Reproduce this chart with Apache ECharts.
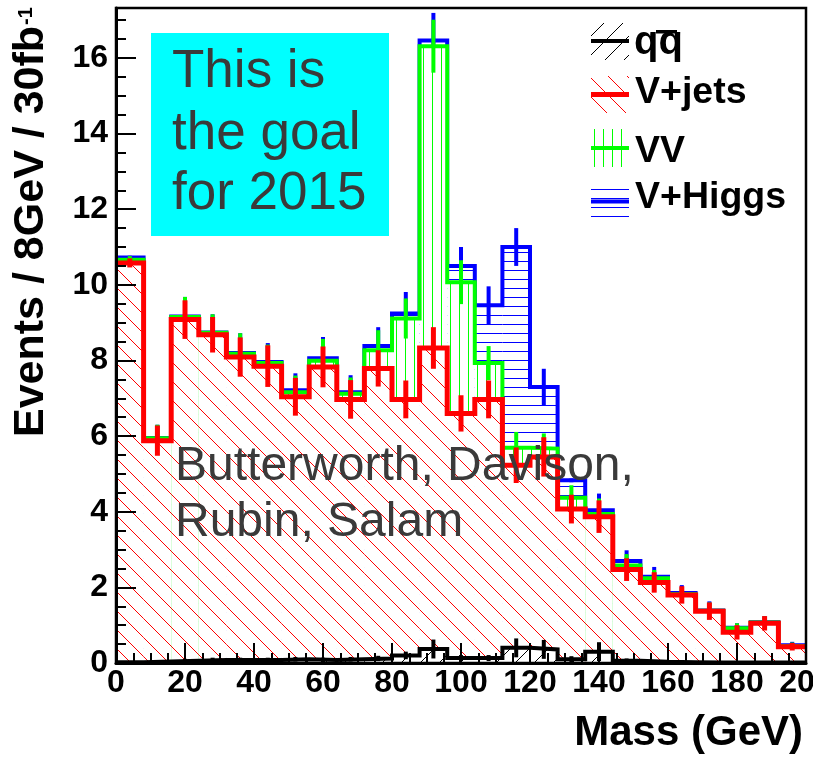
<!DOCTYPE html>
<html><head><meta charset="utf-8">
<script src="https://cdn.jsdelivr.net/npm/echarts@6/dist/echarts.min.js"></script>
<style>html,body{margin:0;padding:0;background:#fff}#c{width:813px;height:757px}</style>
</head><body><div id="c"></div>
<script>
// ---- data ----
const binStarts = [0,8,16,24,32,40,48,56,64,72,80,88,96,104,112,120,128,136,144,152,160,168,176,184,192];
const binWidth = 8;
const qqbar  = [0.02,0.04,0.06,0.08,0.08,0.08,0.10,0.08,0.10,0.12,0.20,0.37,0.13,0.13,0.40,0.36,0.10,0.30,0.06,0.03,0.02,0.01,0.01,0.01,0.01];
const vjets  = [10.56,5.84,9.02,8.60,8.01,7.77,6.94,7.75,6.87,7.67,6.77,7.96,6.47,6.84,4.83,5.09,3.97,3.57,2.41,2.10,1.78,1.36,0.80,1.04,0.42];
const vv     = [0.08,0.06,0.07,0.05,0.09,0.08,0.12,0.16,0.15,0.48,2.14,7.98,3.47,0.96,0.46,0.22,0.30,0.07,0.11,0.11,0.02,0.01,0.11,0.02,0.01];
const vhiggs = [0.06,0.01,0.01,0.01,0.02,0.03,0.05,0.07,0.04,0.11,0.13,0.15,0.43,1.53,5.31,1.63,0.46,0.10,0.12,0.04,0.03,0.01,0.01,0.01,0.03];
const errQQ  = [0.03,0.04,0.05,0.06,0.06,0.06,0.06,0.06,0.06,0.07,0.10,0.25,0.08,0.08,0.25,0.25,0.08,0.25,0.06,0.04,0.03,0.02,0.02,0.02,0.02];
const errVJ  = [0.12,0.40,0.51,0.47,0.52,0.55,0.50,0.54,0.51,0.48,0.50,0.55,0.48,0.50,0.47,0.52,0.38,0.43,0.30,0.27,0.23,0.23,0.19,0.19,0.10];
const errVV  = [0.10,0.36,0.53,0.49,0.54,0.49,0.44,0.58,0.43,0.53,0.53,0.70,0.58,0.45,0.42,0.40,0.33,0.41,0.30,0.22,0.17,0.22,0.13,0.16,0.10];
const errVH  = [0.05,0.35,0.52,0.48,0.52,0.50,0.45,0.56,0.45,0.50,0.57,0.73,0.50,0.50,0.50,0.48,0.05,0.44,0.28,0.26,0.21,0.24,0.12,0.16,0.09];
const legendNames = ['qq', 'V+jets', 'VV', 'V+Higgs'];
const xLabelStep = 20;
const yLabelStep = 2;

// ---- stacking ----
const layers = [qqbar, vjets, vv, vhiggs];
const cum = [];
let run = binStarts.map(() => 0);
layers.forEach(l => { run = run.map((v, i) => v + l[i]); cum.push(run); });

const FONT = '"Liberation Sans", Helvetica, Arial, sans-serif';

function makePattern(kind, color, size) {
  const c = document.createElement('canvas');
  c.width = size; c.height = size;
  const g = c.getContext('2d');
  g.fillStyle = '#fff'; g.fillRect(0, 0, size, size);
  g.strokeStyle = color; g.lineWidth = 1;
  g.beginPath();
  if (kind === 'back') { for (let k = -1; k <= 1; k++) { g.moveTo(k * size, 0); g.lineTo(k * size + size, size); } }
  if (kind === 'fwd')  { for (let k = -1; k <= 1; k++) { g.moveTo(k * size, size); g.lineTo(k * size + size, 0); } }
  if (kind === 'vert') { g.moveTo(0.5, 0); g.lineTo(0.5, size); }
  if (kind === 'horz') { g.moveTo(0, 0.5); g.lineTo(size, 0.5); }
  g.stroke();
  return { image: c, repeat: 'repeat' };
}
const patQQ = makePattern('fwd', '#000000', 19);
const patVJ = makePattern('back', '#ff0000', 19);
const patVV = makePattern('vert', '#00ff00', 9);
const patVH = makePattern('horz', '#0000ff', 9);

function fillSeries(tops, pattern, z) {
  return {
    type: 'custom', z: z, silent: true, animation: false,
    data: binStarts.map((x0, i) => [x0, x0 + binWidth, tops[i]]),
    encode: { x: [0, 1], y: 2 },
    renderItem: (p, api) => {
      const a = api.coord([api.value(0), 0]);
      const b = api.coord([api.value(1), api.value(2)]);
      return { type: 'rect', shape: { x: a[0], y: b[1], width: b[0] - a[0], height: a[1] - b[1] }, style: { fill: pattern } };
    }
  };
}
function outlineSeries(tops, color, width, z) {
  const pts = binStarts.map((x0, i) => [x0, tops[i]]);
  pts.push([binStarts[binStarts.length - 1] + binWidth, tops[tops.length - 1]]);
  return { type: 'line', step: 'end', data: pts, symbol: 'none', z: z, silent: true, animation: false,
    lineStyle: { color: color, width: width, join: 'miter', cap: 'butt' } };
}
function errorSeries(tops, errs, color, width, z) {
  return {
    type: 'custom', z: z, silent: true, animation: false,
    data: binStarts.map((x0, i) => [x0 + binWidth / 2, tops[i] - errs[i], tops[i] + errs[i]]),
    encode: { x: 0, y: [1, 2] },
    renderItem: (p, api) => {
      const a = api.coord([api.value(0), api.value(1)]);
      const b = api.coord([api.value(0), api.value(2)]);
      return { type: 'line', shape: { x1: a[0], y1: a[1], x2: b[0], y2: b[1] }, style: { stroke: color, lineWidth: width } };
    }
  };
}

const series = [];
// back to front: V+Higgs, VV, V+jets, qq
const specs = [
  [cum[3], patVH, '#0000ff', errVH, 4],
  [cum[2], patVV, '#00ff00', errVV, 4],
  [cum[1], patVJ, '#ff0000', errVJ, 5],
  [cum[0], patQQ, '#000000', errQQ, 4]
];
specs.forEach((s, k) => {
  const z = 2 + k * 3;
  series.push(fillSeries(s[0], s[1], z));
  series.push(outlineSeries(s[0], s[2], s[4], z + 1));
  series.push(errorSeries(s[0], s[3], s[2], s[4], z + 2));
});

function txt(text, x, y, size, weight, color, align, rot) {
  return { type: 'text', x: x, y: y, rotation: rot || 0, z: 200, silent: true,
    style: { text: text, fill: color, font: weight + ' ' + size + 'px ' + FONT,
      align: align, verticalAlign: 'middle', textAlign: align, textVerticalAlign: 'middle' } };
}
function mid(baseline, size) { return baseline - 0.3465 * size; }

const graphics = [
  // frame
  { type: 'rect', z: 150, silent: true, shape: { x: 116, y: 8, width: 690, height: 655 }, style: { fill: null, stroke: '#000', lineWidth: 2.5 } },
  // cyan box
  { type: 'rect', z: 190, silent: true, shape: { x: 151, y: 33, width: 238, height: 203 }, style: { fill: '#00ffff' } },
  txt('This is', 172, mid(90.7, 53), 53, 'normal', '#3a3a3a', 'left'),
  txt('the goal', 172, mid(152.7, 53), 53, 'normal', '#3a3a3a', 'left'),
  txt('for 2015', 172, mid(212.7, 53), 53, 'normal', '#3a3a3a', 'left'),
  txt('Butterworth, Davison,', 175, mid(483.3, 48), 48, 'normal', '#3a3a3a', 'left'),
  txt('Rubin, Salam', 175, mid(539.3, 48), 48, 'normal', '#3a3a3a', 'left'),
  // axis titles
  txt('Events / 8GeV / 30fb', 31, 437, 43, 'bold', '#000', 'left', Math.PI / 2),
  txt('-1', 26, 25, 20, 'bold', '#000', 'left', Math.PI / 2),
  txt('Mass (GeV)', 803, mid(748, 42), 42, 'bold', '#000', 'right'),
  // legend symbols
  { type: 'rect', z: 180, silent: true, shape: { x: 591, y: 23, width: 38, height: 37 }, style: { fill: patQQ } },
  { type: 'line', z: 181, silent: true, shape: { x1: 591, y1: 41, x2: 629, y2: 41 }, style: { stroke: '#000', lineWidth: 4 } },
  { type: 'rect', z: 180, silent: true, shape: { x: 591, y: 76, width: 38, height: 37 }, style: { fill: patVJ } },
  { type: 'line', z: 181, silent: true, shape: { x1: 591, y1: 94.5, x2: 629, y2: 94.5 }, style: { stroke: '#ff0000', lineWidth: 5 } },
  { type: 'rect', z: 180, silent: true, shape: { x: 591, y: 129, width: 38, height: 38 }, style: { fill: patVV } },
  { type: 'line', z: 181, silent: true, shape: { x1: 591, y1: 148, x2: 629, y2: 148 }, style: { stroke: '#00ff00', lineWidth: 4 } },
  { type: 'rect', z: 180, silent: true, shape: { x: 591, y: 182, width: 38, height: 37 }, style: { fill: patVH } },
  { type: 'line', z: 181, silent: true, shape: { x1: 591, y1: 201.5, x2: 629, y2: 201.5 }, style: { stroke: '#0000ff', lineWidth: 4 } },
  // legend texts
  txt(legendNames[0], 634, mid(57.3, 40), 40, 'bold', '#000', 'left'),
  { type: 'rect', z: 200, silent: true, shape: { x: 656, y: 30, width: 21, height: 3.5 }, style: { fill: '#000' } },
  txt(legendNames[1], 635, mid(106, 37.5), 37.5, 'bold', '#000', 'left'),
  txt(legendNames[2], 635, mid(165, 37.5), 37.5, 'bold', '#000', 'left'),
  txt(legendNames[3], 635, mid(210.7, 37.5), 37.5, 'bold', '#000', 'left')
];

const chart = echarts.init(document.getElementById('c'), null, { renderer: 'canvas', width: 813, height: 757 });
chart.setOption({
  animation: false,
  backgroundColor: '#ffffff',
  grid: { left: 116, top: 8, width: 690, height: 655, containLabel: false, outerBoundsMode: 'none' },
  xAxis: {
    type: 'value', min: 0, max: 200, interval: xLabelStep, z: 50,
    axisLine: { show: true, onZero: false, lineStyle: { color: '#000', width: 3 } },
    axisTick: { show: true, inside: true, length: 20, lineStyle: { color: '#000', width: 2 } },
    minorTick: { show: true, splitNumber: 4, length: 10, lineStyle: { color: '#000', width: 2 } },
    splitLine: { show: false },
    axisLabel: { margin: 4, fontSize: 32, fontWeight: 'bold', fontFamily: FONT, color: '#000' }
  },
  yAxis: {
    type: 'value', min: 0, max: 17.32, interval: yLabelStep, z: 50,
    axisLine: { show: true, onZero: false, lineStyle: { color: '#000', width: 3 } },
    axisTick: { show: true, inside: true, length: 20, lineStyle: { color: '#000', width: 2 } },
    minorTick: { show: true, splitNumber: 4, length: 10, lineStyle: { color: '#000', width: 2 } },
    splitLine: { show: false },
    axisLabel: { margin: 8, fontSize: 32, fontWeight: 'bold', fontFamily: FONT, color: '#000', showMaxLabel: false }
  },
  series: series,
  graphic: graphics
});
</script>
</body></html>
